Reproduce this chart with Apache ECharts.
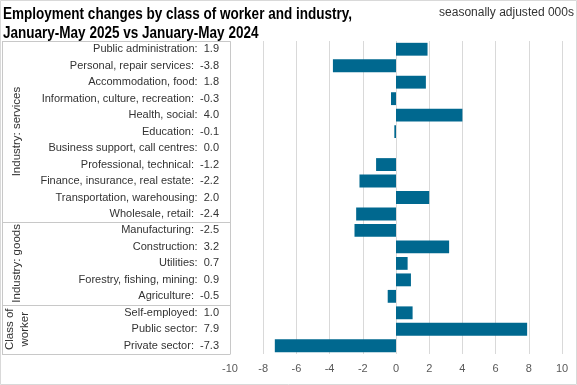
<!DOCTYPE html>
<html><head><meta charset="utf-8">
<script src="https://cdn.jsdelivr.net/npm/echarts@6/dist/echarts.min.js"></script>
<style>html,body{margin:0;padding:0;background:#fff}#c{width:577px;height:385px}</style>
</head><body><div id="c"></div>
<script>
const categories = ["Public administration","Personal, repair services","Accommodation, food","Information, culture, recreation","Health, social","Education","Business support, call centres","Professional, technical","Finance, insurance, real estate","Transportation, warehousing","Wholesale, retail","Manufacturing","Construction","Utilities","Forestry, fishing, mining","Agriculture","Self-employed","Public sector","Private sector"];
const values = [1.9,-3.8,1.8,-0.3,4.0,-0.1,0.0,-1.2,-2.2,2.0,-2.4,-2.5,3.2,0.7,0.9,-0.5,1.0,7.9,-7.3];
const groupNames = ["Industry: services","Industry: goods","Class of\nworker"];
const groupSizes = [11,5,3];
const xTicks = [-10,-8,-6,-4,-2,0,2,4,6,8,10];
const titleLines = ["Employment changes by class of worker and industry,","January-May 2025 vs January-May 2024"];
const subtitle = "seasonally adjusted 000s";

const FONT = "'Liberation Sans Narrow','Liberation Sans',sans-serif";
const chart = echarts.init(document.getElementById('c'), null, {renderer:'canvas'});
const labelMap = {};
categories.forEach((c,i)=>{ labelMap[c] = c + ':  ' + values[i].toFixed(1); });

chart.setOption({
  animation:false,
  textStyle:{fontFamily:FONT},
  grid:{left:230,right:15,top:41,bottom:31,containLabel:false},
  xAxis:{type:'value',min:xTicks[0],max:xTicks[xTicks.length-1],interval:2,
    axisLine:{show:false},axisTick:{show:false},
    axisLabel:{color:'#595959',fontSize:11,margin:9,fontFamily:FONT},
    splitLine:{lineStyle:{color:'#d9d9d9',width:1}}},
  yAxis:{type:'category',data:categories,inverse:true,
    axisLine:{show:false},axisTick:{show:false},
    axisLabel:{color:'#333',fontSize:11,margin:11,fontFamily:FONT,formatter:v=>labelMap[v]}},
  series:[{type:'bar',data:values,barCategoryGap:'22%',itemStyle:{color:'#00688F'}}]
});

function drawGraphics(){
  const pos = categories.map((c,i)=>chart.convertToPixel({gridIndex:0},[0,c])[1]);
  const step = pos[1]-pos[0];
  const top = pos[0]-step/2, bottom = pos[pos.length-1]+step/2;
  const xLeft = 2, xRight = chart.convertToPixel({gridIndex:0},[xTicks[0],categories[0]])[0];
  const els = [];
  const lc = '#c8c8c8';
  els.push({type:'rect',shape:{x:0.5,y:0.5,width:576,height:384},style:{fill:null,stroke:'#d9d9d9',lineWidth:1},silent:true});
  const bounds=[top];
  let idx=0;
  groupSizes.forEach(s=>{ idx+=s; bounds.push(pos[idx-1]+step/2); });
  bounds.forEach(y=>{ const yy=Math.round(y)+0.5; els.push({type:'line',shape:{x1:xLeft,y1:yy,x2:xRight,y2:yy},style:{stroke:lc,lineWidth:1},silent:true}); });
  els.push({type:'line',shape:{x1:xLeft+0.5,y1:Math.round(top)+0.5,x2:xLeft+0.5,y2:Math.round(bottom)+0.5},style:{stroke:lc,lineWidth:1},silent:true});
  els.push({type:'line',shape:{x1:Math.round(xRight)+0.5,y1:Math.round(top)+0.5,x2:Math.round(xRight)+0.5,y2:Math.round(bottom)+0.5},style:{stroke:lc,lineWidth:1},silent:true});
  groupNames.forEach((g,k)=>{
    const cy=(bounds[k]+bounds[k+1])/2;
    els.push({type:'text',x:17,y:cy,rotation:Math.PI/2,
      style:{text:g,fill:'#333',font:'11.5px '+FONT,align:'center',verticalAlign:'middle',lineHeight:15},silent:true});
  });
  const ctx = document.createElement('canvas').getContext('2d');
  const tFont = 'bold 16px '+FONT;
  ctx.font = tFont;
  const sx = 349 / ctx.measureText(titleLines[0]).width;
  titleLines.forEach((t,i)=>{
    els.push({type:'text',x:3,y:14.5+i*19.5,scaleX:sx,
      style:{text:t,fill:'#000',font:tFont,align:'left',verticalAlign:'middle'},silent:true});
  });
  const sFont = "12px 'Liberation Sans',sans-serif";
  ctx.font = sFont;
  const ssx = 135 / ctx.measureText(subtitle).width;
  els.push({type:'text',x:574,y:13,scaleX:ssx,style:{text:subtitle,fill:'#333',font:sFont,align:'right',verticalAlign:'middle'},silent:true});
  chart.setOption({graphic:{elements:els}});
}
drawGraphics();
</script></body></html>
